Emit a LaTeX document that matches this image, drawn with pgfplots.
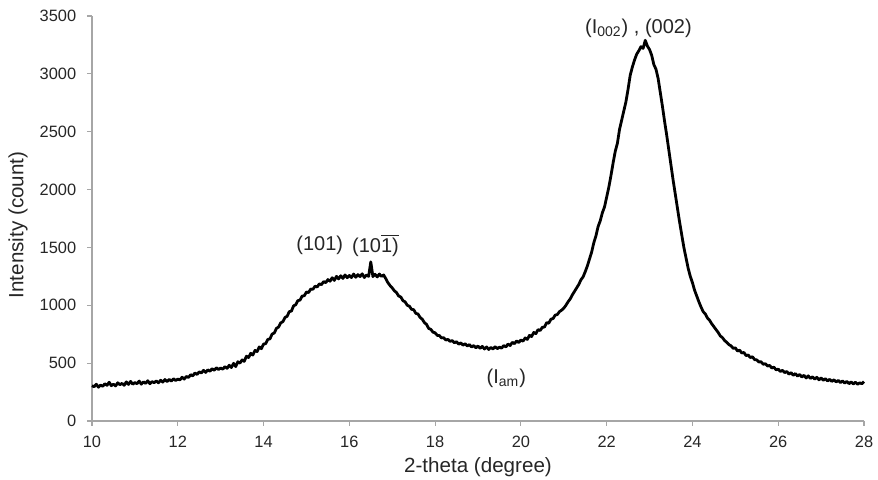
\documentclass[border=0pt]{standalone}
\usepackage{pgfplots}
\pgfplotsset{compat=1.18}
\usepackage{fontspec}
\setmainfont{Liberation Sans}
\begin{document}
\fontsize{8.2}{10}\selectfont
\begin{tikzpicture}
\useasboundingbox (-46pt,-29.5pt) rectangle (393pt,210.5pt);
\begin{axis}[
  at={(0,0)}, anchor=south west,
  scale only axis, width=386pt, height=202.5pt,
  xmin=10, xmax=28, ymin=0, ymax=3500,
  xtick={10,12,...,28}, ytick={0,500,...,3500},
  axis x line=bottom, axis y line=left,
  axis line style={-, draw=black!35, line width=0.6pt},
  tick style={draw=black!35, line width=0.6pt},
  tick align=outside, major tick length=2.5pt,
  /pgf/number format/assume math mode=true,
  /pgf/number format/1000 sep={},
  ticklabel style={font=\fontsize{8.2}{10}\selectfont, text=black!85},
  yticklabel style={xshift=-2.5pt},
  xticklabel style={yshift=-2.2pt},
  label style={font=\fontsize{10.3}{12}\selectfont, text=black!85},
  xlabel={2-theta (degree)},
  ylabel={Intensity (count)},
  xlabel style={at={(axis description cs:0.5,-0.1136)}, anchor=center},
  ylabel style={at={(axis description cs:-0.0959,0.484)}, anchor=center},
  clip=false,
]
\addplot[black, line width=1.4pt, line join=round] coordinates {
(10.00,305)(10.05,296)(10.10,318)(10.15,292)(10.20,310)(10.25,300)(10.30,322)(10.35,308)(10.40,335)(10.45,305)
(10.50,318)(10.55,303)(10.60,330)(10.65,314)(10.70,325)(10.75,308)(10.80,338)(10.85,316)(10.90,342)(10.95,318)
(11.00,332)(11.05,322)(11.10,345)(11.15,318)(11.20,338)(11.25,325)(11.30,348)(11.35,322)(11.40,340)(11.45,331)
(11.50,346)(11.55,330)(11.60,352)(11.65,336)(11.70,358)(11.75,341)(11.80,360)(11.85,344)(11.90,365)(11.95,350)
(12.00,362)(12.05,355)(12.10,378)(12.15,362)(12.20,385)(12.25,376)(12.30,400)(12.35,390)(12.40,415)(12.45,402)
(12.50,425)(12.55,415)(12.60,438)(12.65,420)(12.70,442)(12.75,430)(12.80,452)(12.85,438)(12.90,460)(12.95,445)
(13.00,458)(13.05,448)(13.10,470)(13.15,455)(13.20,482)(13.25,462)(13.30,498)(13.35,470)(13.40,512)(13.45,500)
(13.50,528)(13.55,515)(13.60,560)(13.65,548)(13.70,585)(13.75,570)(13.80,610)(13.85,600)(13.90,640)(13.95,625)
(14.00,665)(14.05,668)(14.10,705)(14.15,710)(14.20,752)(14.25,760)(14.30,800)(14.35,812)(14.40,848)(14.45,858)
(14.50,895)(14.55,905)(14.60,945)(14.65,950)(14.70,995)(14.75,1005)(14.80,1040)(14.85,1045)(14.90,1080)(14.95,1082)
(15.00,1115)(15.05,1110)(15.10,1140)(15.15,1138)(15.20,1165)(15.25,1158)(15.30,1185)(15.35,1178)(15.40,1205)(15.45,1195)
(15.50,1222)(15.55,1208)(15.60,1238)(15.65,1215)(15.70,1250)(15.75,1228)(15.80,1255)(15.85,1232)(15.90,1262)(15.95,1238)
(16.00,1258)(16.05,1240)(16.10,1270)(16.15,1242)(16.20,1265)(16.25,1248)(16.30,1272)(16.35,1240)(16.40,1262)(16.45,1250)
(16.50,1375)(16.55,1248)(16.60,1268)(16.65,1245)(16.70,1270)(16.75,1250)(16.80,1262)(16.85,1230)(16.90,1195)(16.95,1170)
(17.00,1150)(17.05,1125)(17.10,1110)(17.15,1080)(17.20,1072)(17.25,1040)(17.30,1030)(17.35,1000)(17.40,992)(17.45,965)
(17.50,962)(17.55,930)(17.60,925)(17.65,895)(17.70,880)(17.75,850)(17.80,835)(17.85,800)(17.90,792)(17.95,768)
(18.00,762)(18.05,740)(18.10,738)(18.15,718)(18.20,720)(18.25,700)(18.30,705)(18.35,688)(18.40,695)(18.45,676)
(18.50,685)(18.55,664)(18.60,675)(18.65,655)(18.70,668)(18.75,648)(18.80,660)(18.85,640)(18.90,652)(18.95,632)
(19.00,648)(19.05,628)(19.10,645)(19.15,622)(19.20,640)(19.25,618)(19.30,636)(19.35,622)(19.40,642)(19.45,625)
(19.50,638)(19.55,630)(19.60,652)(19.65,640)(19.70,665)(19.75,652)(19.80,680)(19.85,668)(19.90,692)(19.95,678)
(20.00,700)(20.05,690)(20.10,718)(20.15,705)(20.20,740)(20.25,730)(20.30,765)(20.35,755)(20.40,790)(20.45,782)
(20.50,810)(20.55,812)(20.60,850)(20.65,845)(20.70,880)(20.75,885)(20.80,915)(20.85,920)(20.90,945)(20.95,958)
(21.00,975)(21.05,1000)(21.10,1030)(21.15,1055)(21.20,1090)(21.25,1120)(21.30,1150)(21.35,1180)(21.40,1220)(21.45,1245)
(21.50,1290)(21.55,1340)(21.60,1400)(21.65,1460)(21.70,1540)(21.75,1600)(21.80,1680)(21.85,1730)(21.90,1800)(21.95,1850)
(22.00,1935)(22.05,2020)(22.10,2120)(22.15,2230)(22.20,2330)(22.25,2400)(22.30,2520)(22.35,2600)(22.40,2680)(22.45,2760)
(22.50,2870)(22.55,2990)(22.60,3060)(22.65,3120)(22.70,3170)(22.75,3200)(22.80,3235)(22.85,3220)(22.90,3290)(22.95,3240)
(23.00,3210)(23.05,3160)(23.10,3080)(23.15,3040)(23.20,2960)(23.25,2840)(23.30,2720)(23.35,2590)(23.40,2470)(23.45,2340)
(23.50,2210)(23.55,2080)(23.60,1960)(23.65,1840)(23.70,1720)(23.75,1610)(23.80,1500)(23.85,1410)(23.90,1320)(23.95,1250)
(24.00,1195)(24.05,1130)(24.10,1080)(24.15,1030)(24.20,985)(24.25,945)(24.30,925)(24.35,890)(24.40,870)(24.45,840)
(24.50,815)(24.55,790)(24.60,765)(24.65,735)(24.70,720)(24.75,695)(24.80,680)(24.85,660)(24.90,650)(24.95,628)
(25.00,632)(25.05,605)(25.10,612)(25.15,588)(25.20,592)(25.25,565)(25.30,570)(25.35,548)(25.40,555)(25.45,530)
(25.50,528)(25.55,510)(25.60,512)(25.65,490)(25.70,495)(25.75,475)(25.80,480)(25.85,458)(25.90,465)(25.95,442)
(26.00,448)(26.05,428)(26.10,438)(26.15,418)(26.20,428)(26.25,405)(26.30,418)(26.35,395)(26.40,410)(26.45,388)
(26.50,402)(26.55,380)(26.60,395)(26.65,372)(26.70,390)(26.75,368)(26.80,382)(26.85,362)(26.90,378)(26.95,356)
(27.00,372)(27.05,352)(27.10,366)(27.15,346)(27.20,360)(27.25,342)(27.30,356)(27.35,338)(27.40,350)(27.45,332)
(27.50,346)(27.55,328)(27.60,342)(27.65,322)(27.70,338)(27.75,320)(27.80,335)(27.85,318)(27.90,330)(27.95,322)
(28.00,340)
};
\node[text=black!85, font=\fontsize{10}{12}\selectfont] at (axis cs:15.31,1517) {(101)};
\node[text=black!85, font=\fontsize{10}{12}\selectfont] at (axis cs:16.61,1517) {(10$\overline{\vphantom{X}\hbox{1)}}$};
\node[text=black!85, font=\fontsize{10}{12}\selectfont] at (axis cs:22.74,3391) {(I\textsubscript{002}) , (002)};
\node[text=black!85, font=\fontsize{10}{12}\selectfont] at (axis cs:19.66,369) {(I\textsubscript{am})};
\end{axis}
\end{tikzpicture}
\end{document}
